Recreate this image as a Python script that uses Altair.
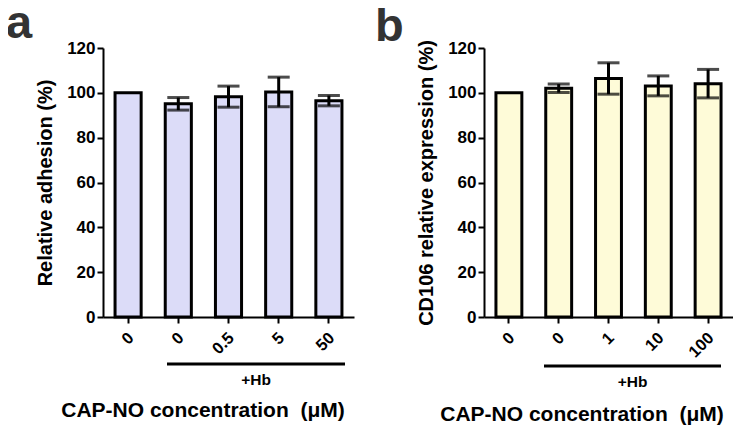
import altair as alt
import pandas as pd

FONT = "Liberation Sans"

# ---- data ----
keys_a = ["ctrl", "hb0", "hb0.5", "hb5", "hb50"]
labels_a = ["0", "0", "0.5", "5", "50"]
mean_a = [100.0, 95.1, 98.3, 100.4, 96.5]
err_a = [0.0, 2.8, 4.7, 6.6, 2.3]

keys_b = ["ctrl", "hb0", "hb1", "hb10", "hb100"]
labels_b = ["0", "0", "1", "10", "100"]
mean_b = [100.0, 102.0, 106.4, 103.1, 104.1]
err_b = [0.0, 1.9, 7.0, 4.45, 6.35]

yticks = [0, 20, 40, 60, 80, 100, 120]


def panel(keys, labels, means, errs, fill, ytitle, letter, width, geo):
    df = pd.DataFrame({"key": keys, "label": labels, "mean": means, "err": errs})
    df["lo"] = df["mean"] - df["err"]
    df["hi"] = df["mean"] + df["err"]
    label_map = "{" + ",".join(f"'{k}':'{l}'" for k, l in zip(keys, labels)) + "}"

    xscale = alt.Scale(domain=keys, paddingInner=0.48, paddingOuter=0.24)
    yscale = alt.Scale(domain=[0, 120], nice=False, zero=True)
    xaxis = alt.Axis(
        labelExpr=f"{label_map}[datum.value]", labelAngle=-45, labelAlign="right",
        labelBaseline="middle", labelFont=FONT, labelFontWeight="bold", labelFontSize=16.5,
        labelColor="black", labelPadding=12, labelOffset=3, labelOverlap=False,
        tickSize=6, tickWidth=2, tickColor="black", domainWidth=2, domainColor="black",
        title=None, grid=False,
    )
    yaxis = alt.Axis(
        values=yticks, title=ytitle, titleFont=FONT, titleFontWeight="bold",
        titleFontSize=20, titleColor="black", titlePadding=11,
        labelFont=FONT, labelFontWeight="bold", labelFontSize=17, labelColor="black",
        labelPadding=2, tickSize=6, tickWidth=2, tickColor="black",
        domainWidth=2, domainColor="black", grid=False,
    )
    x = alt.X("key:N", scale=xscale, sort=keys, axis=xaxis)

    base = alt.Chart(df)
    bars = base.mark_bar(fill=fill, stroke="black", strokeWidth=3).encode(
        x=x, y=alt.Y("mean:Q", scale=yscale, axis=yaxis)
    )
    stems = base.transform_filter("datum.err > 0").mark_rule(
        color="black", strokeWidth=3
    ).encode(x=x, y=alt.Y("lo:Q", scale=yscale, axis=yaxis), y2="hi:Q")
    caps = base.transform_filter("datum.err > 0").transform_fold(
        ["lo", "hi"], as_=["end", "val"]
    ).mark_tick(color="black", size=22, thickness=3).encode(
        x=x, y=alt.Y("val:Q", scale=yscale, axis=yaxis)
    )

    ann = alt.Chart(pd.DataFrame({"t": [letter], "hb": ["+Hb"],
                                  "xt": ["CAP-NO concentration \u00a0(\u03bcM)"]}))
    line = ann.mark_rule(color="black", strokeWidth=3).encode(
        x=alt.value(geo["lx1"]), x2=alt.value(geo["lx2"]), y=alt.value(geo["ly"])
    )
    hb = ann.mark_text(font=FONT, fontWeight="bold", fontSize=15.5, color="black",
                       align="center", baseline="alphabetic").encode(
        text="hb:N", x=alt.value((geo["lx1"] + geo["lx2"]) / 2), y=alt.value(geo["hby"])
    )
    xt = ann.mark_text(font=FONT, fontWeight="bold", fontSize=21, color="black",
                       align="center", baseline="alphabetic").encode(
        text="xt:N", x=alt.value(geo["tx"]), y=alt.value(geo["ty"])
    )
    let = ann.mark_text(font=FONT, fontWeight="bold", fontSize=47, color="#333333",
                        align="left", baseline="alphabetic").encode(
        text="t:N", x=alt.value(geo["ax"]), y=alt.value(geo["ay"])
    )
    return alt.layer(bars, stems, caps, line, hb, xt, let).properties(
        width=width, height=269
    )


pa = panel(keys_a, labels_a, mean_a, err_a, "#dcdcf8", "Relative adhesion (%)", "a", 251,
           dict(lx1=64, lx2=242, ly=316, hby=337, tx=100, ty=369, ax=-97, ay=-10))
pb = panel(keys_b, labels_b, mean_b, err_b, "#fefbd8", "CD106 relative expression (%)", "b", 249,
           dict(lx1=60, lx2=237, ly=318, hby=339, tx=98, ty=373, ax=-109, ay=-7))

chart = alt.hconcat(pa, pb, spacing=21).resolve_scale(
    x="independent", y="independent"
).configure_view(stroke=None).properties(
    padding={"left": -2, "top": -8, "right": 0, "bottom": 0}
)

chart.save("out.html", embed_options={"renderer": "svg", "actions": False})
